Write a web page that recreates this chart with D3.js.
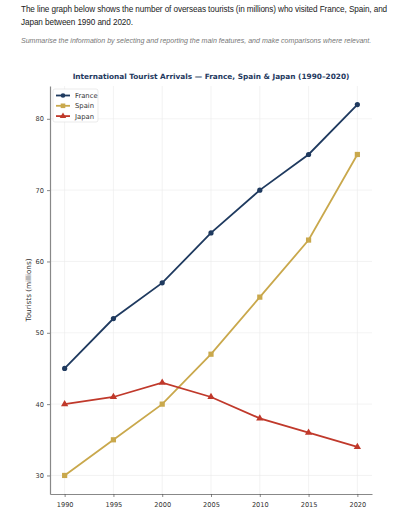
<!DOCTYPE html>
<html>
<head>
<meta charset="utf-8">
<script src="https://cdn.jsdelivr.net/npm/d3@7"></script>
<style>
  body { margin: 0; background: #fff; font-family: "Liberation Sans", Arial, sans-serif; }
  .prompt { position: absolute; left: 21px; top: 3px; width: 374px; font-size: 8.2px; letter-spacing: -0.1px; line-height: 13px; color: #222; }
  .task { position: absolute; left: 21px; top: 37px; font-size: 7.05px; font-style: italic; color: #777; white-space: nowrap; }
  svg { position: absolute; left: 0; top: 0; }
</style>
</head>
<body>
<div class="prompt">The line graph below shows the number of overseas tourists (in millions) who visited France, Spain, and Japan between 1990 and 2020.</div>
<div class="task">Summarise the information by selecting and reporting the main features, and make comparisons where relevant.</div>
<svg id="chart"></svg>
<script>
var years = [1990, 1995, 2000, 2005, 2010, 2015, 2020];
var france = [45, 52, 57, 64, 70, 75, 82];
var spain = [30, 35, 40, 47, 55, 63, 75];
var japan = [40, 41, 43, 41, 38, 36, 34];
var yTicks = [30, 40, 50, 60, 70, 80];

var series = [
  {name: "France", values: france, color: "#1f3a5f", marker: "circle"},
  {name: "Spain", values: spain, color: "#c9a84c", marker: "square"},
  {name: "Japan", values: japan, color: "#c0392b", marker: "triangle"}
];

var width = 416, height = 512;
var margin = {"left": 50, "right": 44, "top": 86, "bottom": 18};

var svg = d3.select("#chart").attr("width", width).attr("height", height);

var xScale = d3.scaleLinear()
               .domain([1988.5, 2021.5])
               .range([margin.left, width - margin.right]);
var yScale = d3.scaleLinear()
               .domain([27.4, 84.6])
               .range([height - margin.bottom, margin.top]);

// grid
svg.append("g").selectAll("line").data(years).enter().append("line")
   .attr("x1", function(d) { return xScale(d); }).attr("x2", function(d) { return xScale(d); })
   .attr("y1", margin.top).attr("y2", height - margin.bottom)
   .attr("stroke", "#ebebeb").attr("stroke-width", 0.6);
svg.append("g").selectAll("line").data(yTicks).enter().append("line")
   .attr("x1", margin.left).attr("x2", width - margin.right)
   .attr("y1", function(d) { return yScale(d); }).attr("y2", function(d) { return yScale(d); })
   .attr("stroke", "#ebebeb").attr("stroke-width", 0.6);

// axes
var xAxis = d3.axisBottom(xScale).tickValues(years).tickFormat(d3.format("d")).tickSize(3).tickSizeOuter(0);
var yAxis = d3.axisLeft(yScale).tickValues(yTicks).tickSize(3).tickSizeOuter(0);

var gx = svg.append("g").attr("transform", "translate(0," + (height - margin.bottom) + ")").call(xAxis);
var gy = svg.append("g").attr("transform", "translate(" + margin.left + ",0)").call(yAxis);
[gx, gy].forEach(function(g) {
  g.select(".domain").attr("stroke", "#888").attr("stroke-width", 1.2);
  g.selectAll(".tick line").attr("stroke", "#555").attr("stroke-width", 0.7);
  g.selectAll("text").attr("fill", "#333").style("font-family", "DejaVu Sans").style("font-size", "6.6px");
});
gx.selectAll("text").attr("dy", "1.0em");

svg.append("text")
   .attr("transform", "translate(31," + ((margin.top + height - margin.bottom) / 2) + ") rotate(-90)")
   .attr("text-anchor", "middle")
   .style("font-family", "DejaVu Sans").style("font-size", "7.2px").attr("fill", "#333")
   .text("Tourists (millions)");

svg.append("text")
   .attr("x", 211).attr("y", 79)
   .attr("text-anchor", "middle")
   .style("font-family", "DejaVu Sans").style("font-weight", "bold").style("font-size", "7.35px")
   .attr("fill", "#1f3a5f")
   .text("International Tourist Arrivals \u2014 France, Spain & Japan (1990\u20132020)");

var line = d3.line()
             .x(function(d, i) { return xScale(years[i]); })
             .y(function(d) { return yScale(d); });

function drawMarker(g, type, x, y, color, s) {
  if (type === "circle") {
    g.append("circle").attr("cx", x).attr("cy", y).attr("r", s).attr("fill", color);
  } else if (type === "square") {
    g.append("rect").attr("x", x - s).attr("y", y - s).attr("width", 2 * s).attr("height", 2 * s).attr("fill", color);
  } else {
    var sym = d3.symbol().type(d3.symbolTriangle).size(s * s * 3.4);
    g.append("path").attr("d", sym()).attr("transform", "translate(" + x + "," + y + ")").attr("fill", color);
  }
}

series.forEach(function(s) {
  var g = svg.append("g");
  g.append("path").datum(s.values)
   .attr("d", line).attr("fill", "none")
   .attr("stroke", s.color).attr("stroke-width", 1.8);
  s.values.forEach(function(v, i) {
    drawMarker(g, s.marker, xScale(years[i]), yScale(v), s.color, 2.6);
  });
});

// legend
var lg = svg.append("g").attr("transform", "translate(53,89)");
lg.append("rect").attr("width", 45).attr("height", 33).attr("rx", 2)
  .attr("fill", "#fff").attr("fill-opacity", 0.85).attr("stroke", "#ddd").attr("stroke-width", 0.6);
series.forEach(function(s, i) {
  var y = 6.5 + i * 10.3;
  lg.append("line").attr("x1", 3).attr("x2", 17).attr("y1", y).attr("y2", y)
    .attr("stroke", s.color).attr("stroke-width", 1.8);
  drawMarker(lg, s.marker, 10, y, s.color, 2.3);
  lg.append("text").attr("x", 22).attr("y", y + 2.4)
    .style("font-family", "DejaVu Sans").style("font-size", "6.8px").attr("fill", "#333")
    .text(s.name);
});
</script>
</body>
</html>
